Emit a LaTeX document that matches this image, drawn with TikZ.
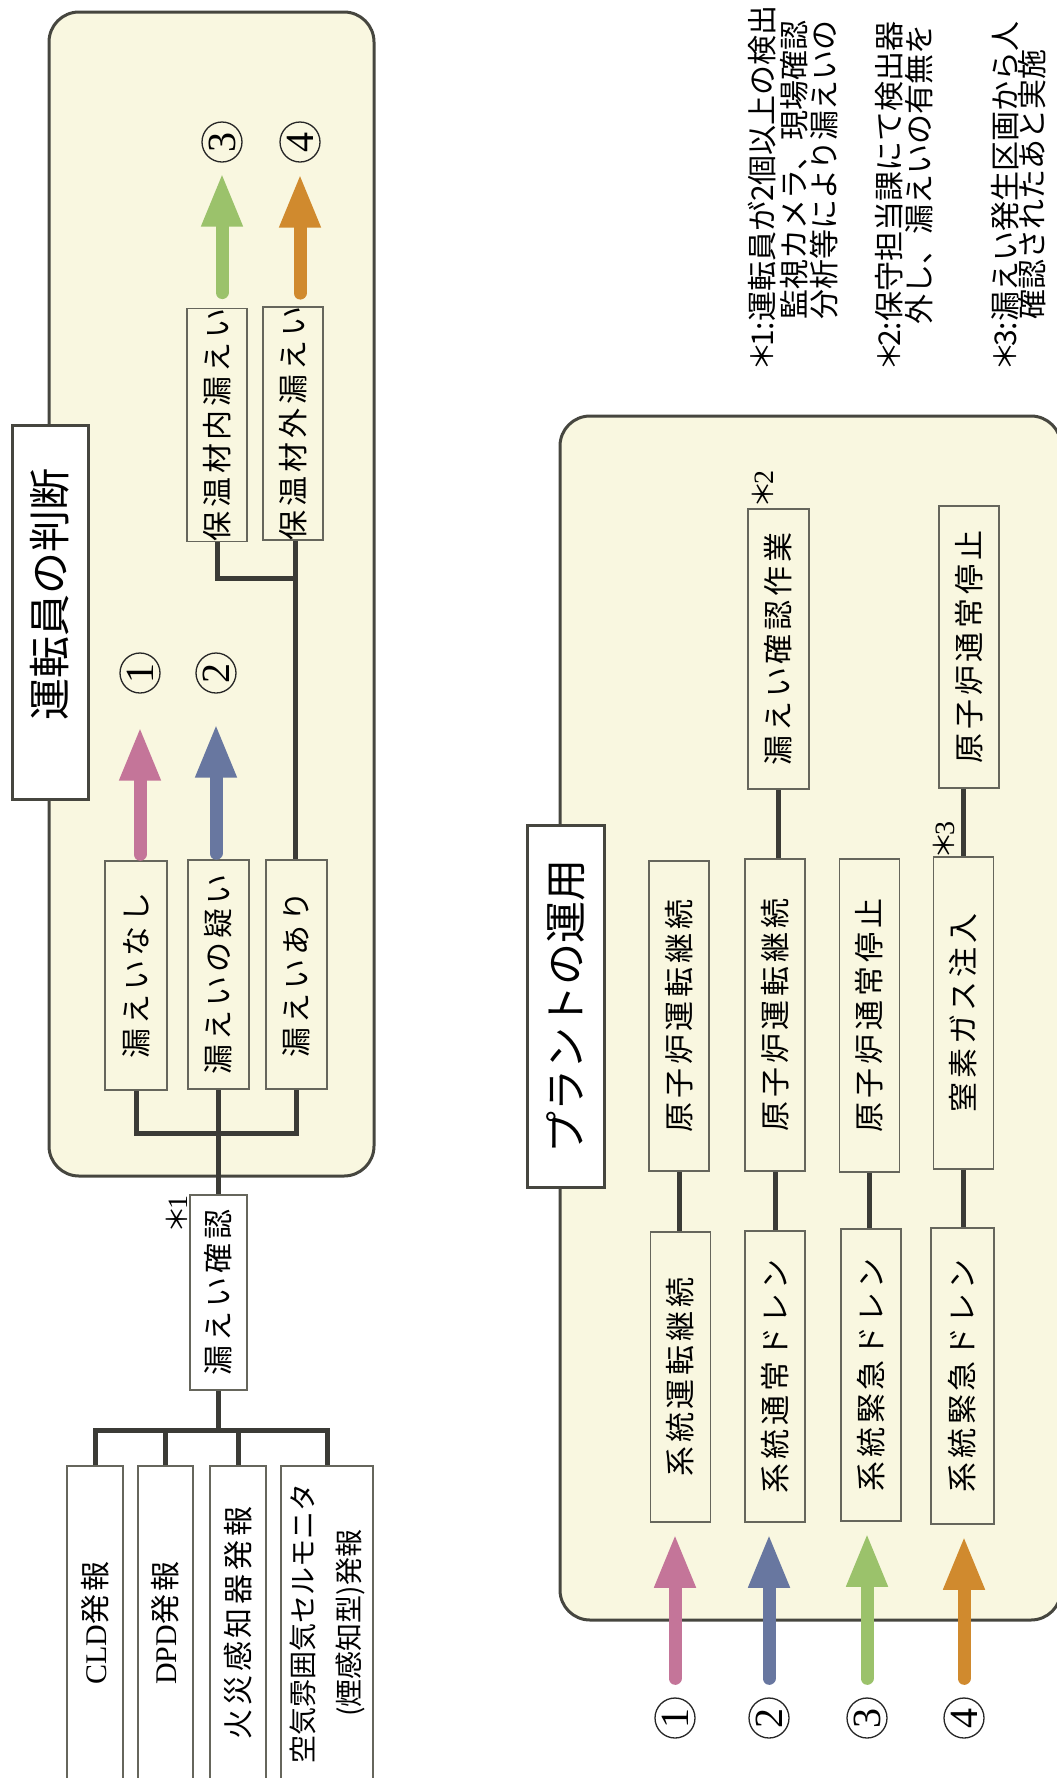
\documentclass[tikz,border=0pt]{standalone}
\usepackage{fontspec}
\usepackage{graphicx}
\usetikzlibrary{arrows.meta}
\newfontfamily\jp{Noto Sans CJK JP}
\newfontfamily\jpls{Noto Sans CJK JP}[LetterSpace=13]
\newfontfamily\lat{Liberation Serif}
\definecolor{cream}{HTML}{F9F7E0}
\definecolor{panelline}{HTML}{46463F}
\definecolor{boxline}{HTML}{66665C}
\definecolor{connc}{HTML}{3B3B36}
\definecolor{pinkc}{HTML}{C47599}
\definecolor{bluec}{HTML}{6877A0}
\definecolor{greenc}{HTML}{9BC26B}
\definecolor{orangec}{HTML}{D08A2E}
\newcommand\boxtxt[1]{\rotatebox{90}{\jpls\fontsize{30}{34}\selectfont #1}}
\newcommand\titletxt[1]{\rotatebox{90}{\jp\fontsize{42}{48}\selectfont #1}}
\newcommand\numtxt[1]{\rotatebox{90}{\lat\fontsize{40}{40}\selectfont #1}}
\newcommand\myast{\makebox[20pt][c]{＊}}
\begin{document}
\begin{tikzpicture}[x=1pt,y=-1pt,
  box/.style={draw=boxline, line width=1.5pt, fill=cream, inner sep=0pt, minimum width=60pt},
  wbox/.style={box, fill=white},
  conn/.style={draw=connc, line width=5pt},
  panel/.style={draw=panelline, line width=3pt, fill=cream, rounded corners=30pt},
  titlebox/.style={draw=panelline, line width=3pt, fill=white, inner sep=0pt},
  num/.style={circle, draw=black!85, line width=1.3pt, minimum size=40pt, inner sep=0pt},
  starlbl/.style={rotate=90, inner sep=0pt, font=\jp\fontsize{28}{28}\selectfont},
  fn/.style={rotate=90, anchor=west, inner sep=0pt, font=\jp\fontsize{30}{30}\selectfont},
  fat/.style={line width=13pt, line cap=round, -{Triangle[length=54pt,width=38pt]}}
]
\useasboundingbox (0,0) rectangle (1057,1778);
\clip (0,0) rectangle (1057,1778);

% ---------------- top panel: operator judgement
\draw[panel] (49,12) rectangle (374,1176);
\node[titlebox, minimum width=76pt, minimum height=374pt] (t1) at (50,612)
  {\titletxt{\hspace*{36pt}運転員の判断}};

\node[box, minimum width=62pt, minimum height=229pt] (bnasi) at (136,975.5) {\boxtxt{漏えいなし}};
\node[box, minimum width=61pt, minimum height=229pt] (butagai) at (218.5,974.5) {\boxtxt{漏えいの疑い}};
\node[box, minimum width=61pt, minimum height=229pt] (bari) at (296.5,974.5) {\boxtxt{漏えいあり}};
\node[box, minimum width=60pt, minimum height=226pt] (bnai) at (217,425) {\boxtxt{保温材内漏えい}};
\node[box, minimum width=60pt, minimum height=227pt] (bgai) at (293,423.5) {\boxtxt{保温材外漏えい}};

\node[num] (n1) at (140,673) {\numtxt{1}};
\node[num] (n2) at (216,673) {\numtxt{2}};
\node[num] (n3) at (222,142) {\numtxt{3}};
\node[num] (n4) at (300,142) {\numtxt{4}};

\draw[fat, pinkc, shorten <=6pt, shorten >=33pt] (bnasi.north -| n1) -- (n1.south);
\draw[fat, bluec, shorten <=6pt, shorten >=30pt] (butagai.north -| n2) -- (n2.south);
\draw[fat, greenc, shorten <=15pt, shorten >=10pt] (bnai.north -| n3) -- (n3.south);
\draw[fat, orangec, shorten <=13pt, shorten >=11pt] (bgai.north -| n4) -- (n4.south);

\coordinate (j2) at (295,578);
\draw[conn] (bnai.south) |- (j2);
\draw[conn] (bgai.south -| j2) -- (bari.north -| j2);

% ---------------- leak check and alarms
\node[wbox, minimum width=57pt, minimum height=195pt] (kakunin) at (218.5,1292.5) {\boxtxt{漏えい確認}};
\node[starlbl] (s1) at (177,1212) {\myast{\lat 1}};

\coordinate (j1) at (219,1133);
\draw[conn] (bnasi.south) |- (j1) -| (bari.south);
\draw[conn] (butagai.south) -- (kakunin.north);

\node[wbox, minimum width=56pt, minimum height=314pt] (cld) at (95,1623) {\boxtxt{{\lat CLD}発報}};
\node[wbox, minimum width=55pt, minimum height=314pt] (dpd) at (165.5,1623) {\boxtxt{{\lat DPD}発報}};
\node[wbox, minimum width=56pt, minimum height=314pt] (fire) at (238,1623) {\boxtxt{火災感知器発報}};
\node[wbox, minimum width=90pt, minimum height=314pt] (air) at (327,1623)
  {\rotatebox{90}{\jp\fontsize{28}{46}\selectfont\begin{tabular}{@{}c@{}}空気雰囲気セルモニタ\\(煙感知型)発報\end{tabular}}};

\coordinate (j3) at (222,1430);
\draw[conn] (kakunin.south) -- (kakunin.south |- j3);
\draw[conn] (cld.north) |- (air.north |- j3) -- (air.north);
\draw[conn] (dpd.north) -- (dpd.north |- j3);
\draw[conn] (fire.north) -- (fire.north |- j3);

% ---------------- bottom panel: plant operation
\draw[panel] (560,416) rectangle (1061,1620);
\node[titlebox, minimum width=77pt, minimum height=362pt] (t2) at (565.5,1006) {\titletxt{プラントの運用}};

\node[box, minimum width=61pt, minimum height=280pt] (u2) at (778.5,649) {\boxtxt{漏えい確認作業}};
\node[box, minimum width=60pt, minimum height=282pt] (u4) at (969,647) {\boxtxt{原子炉通常停止}};
\node[starlbl] (s2) at (763,487) {\myast{\lat 2}};
\node[starlbl] (s3) at (944,838) {\myast{\lat 3}};

\node[box, minimum height=310pt] (m1) at (679,1016) {\boxtxt{原子炉運転継続}};
\node[box, minimum height=312pt] (m2) at (775,1015) {\boxtxt{原子炉運転継続}};
\node[box, minimum height=313pt] (m3) at (869.5,1015.5) {\boxtxt{原子炉通常停止}};
\node[box, minimum height=312pt] (m4) at (963.5,1013) {\boxtxt{窒素ガス注入}};

\node[box, minimum height=290pt] (l1) at (680.5,1377) {\boxtxt{系統運転継続}};
\node[box, minimum height=291pt] (l2) at (775,1376.5) {\boxtxt{系統通常ドレン}};
\node[box, minimum height=292pt] (l3) at (871,1375) {\boxtxt{系統緊急ドレン}};
\node[box, minimum width=63pt, minimum height=296pt] (l4) at (962.5,1376) {\boxtxt{系統緊急ドレン}};

\draw[conn] (u2.south) -- (u2.south |- m2.north);
\draw[conn] (u4.south -| m4) -- (m4.north);
\draw[conn] (m1.south) -- (m1.south |- l1.north);
\draw[conn] (m2.south) -- (m2.south |- l2.north);
\draw[conn] (m3.south) -- (m3.south |- l3.north);
\draw[conn] (m4.south) -- (m4.south |- l4.north);

\node[num] (c1) at (675,1718) {\numtxt{1}};
\node[num] (c2) at (769,1718) {\numtxt{2}};
\node[num] (c3) at (867,1718) {\numtxt{3}};
\node[num] (c4) at (964,1718) {\numtxt{4}};

\draw[fat, pinkc, shorten <=19pt, shorten >=11pt] (c1.north) -- (c1.north |- l1.south);
\draw[fat, bluec, shorten <=19pt, shorten >=11pt] (c2.north) -- (c2.north |- l2.south);
\draw[fat, greenc, shorten <=19pt, shorten >=11pt] (c3.north) -- (c3.north |- l3.south);
\draw[fat, orangec, shorten <=19pt, shorten >=11pt] (c4.north) -- (c4.north |- l4.south);

% ---------------- footnotes
\node[fn] (f1a) at (762,367) {\myast 1:運転員が2個以上の検出};
\node[fn] (f1b) at (794,320) {監視カメラ、現場確認};
\node[fn] (f1c) at (824,320) {分析等により漏えいの};
\node[fn] (f2a) at (889,367) {\myast 2:保守担当課にて検出器};
\node[fn] (f2b) at (919,325) {外し、漏えいの有無を};
\node[fn] (f3a) at (1005,367) {\myast 3:漏えい発生区画から人};
\node[fn] (f3b) at (1032,320) {確認されたあと実施};
\end{tikzpicture}
\end{document}
